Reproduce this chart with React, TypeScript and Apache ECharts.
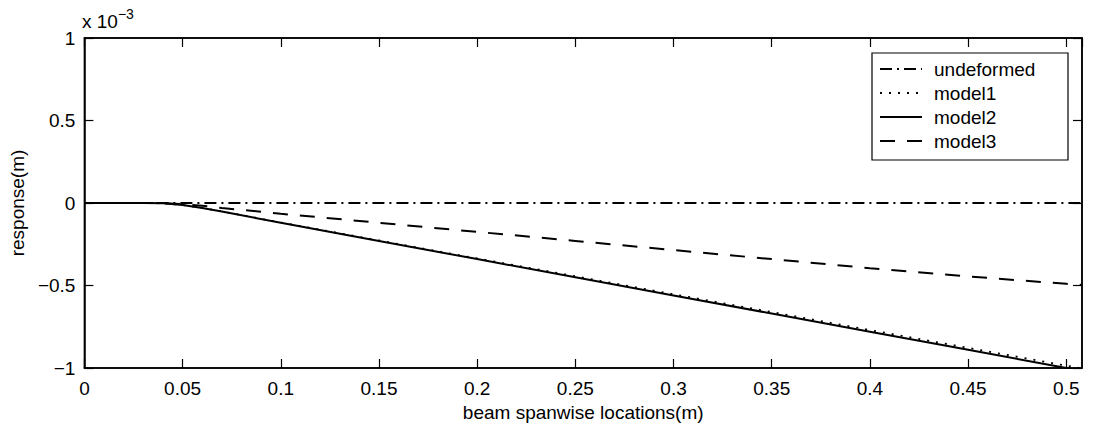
import React, { useEffect, useRef } from "react";
import * as echarts from "echarts";

// beam spanwise location (m)
const xs = [0, 0.02, 0.03, 0.04, 0.05, 0.06, 0.07, 0.1, 0.15, 0.2, 0.25, 0.3, 0.35, 0.4, 0.45, 0.5, 0.508];
// response in units of 1e-3 m
const undeformed = [0, 0, 0, 0, 0, 0, 0, 0, 0, 0, 0, 0, 0, 0, 0, 0, 0];
const model1 = [0, 0, 0, -0.002, -0.012, -0.03, -0.051, -0.118, -0.227, -0.336, -0.444, -0.553, -0.661, -0.77, -0.878, -0.986, -1.003];
const model2 = [0, 0, 0, -0.002, -0.012, -0.03, -0.052, -0.12, -0.23, -0.34, -0.45, -0.56, -0.67, -0.78, -0.89, -1.0, -1.018];
const model3 = [0, 0, 0, -0.001, -0.006, -0.017, -0.03, -0.065, -0.12, -0.175, -0.23, -0.285, -0.34, -0.395, -0.445, -0.49, -0.497];
const seriesNames = ["undeformed", "model1", "model2", "model3"];
const xTickLabels = ["0", "0.05", "0.1", "0.15", "0.2", "0.25", "0.3", "0.35", "0.4", "0.45", "0.5"];
const yTickLabels = ["-1", "-0.5", "0", "0.5", "1"];

const FONT = "'Liberation Sans', Arial, Helvetica, sans-serif";

function pairs(ys: number[]) {
  return xs.map((x, i) => [x, ys[i]]);
}

export default function App() {
  const ref = useRef<HTMLDivElement>(null);
  useEffect(() => {
    if (!ref.current) return;
    const chart = echarts.init(ref.current, null, { renderer: "svg" });
    const fmtX = (v: number) => {
      const i = Math.round(v / 0.05);
      return Math.abs(v - i * 0.05) < 1e-6 && i < xTickLabels.length ? xTickLabels[i] : "";
    };
    const fmtY = (v: number) => {
      const i = Math.round((v + 1) / 0.5);
      const s = yTickLabels[i] ?? "";
      return s.replace("-", "\u2212");
    };
    const tickStyle = { lineStyle: { color: "#000", width: 1.2 } };
    const axisLine = { show: true, onZero: false, lineStyle: { color: "#000", width: 1.5 } };
    const styles: any[] = [
      { type: [12, 5, 2, 5], width: 1.8 },
      { type: [2, 7], width: 1.8 },
      { type: "solid", width: 2 },
      { type: [15, 12], width: 2 },
    ];
    const datas = [undeformed, model1, model2, model3];
    chart.setOption({
      animation: false,
      backgroundColor: "#fff",
      textStyle: { fontFamily: FONT, color: "#000" },
      grid: {
        left: 81,
        right: 12,
        top: 38,
        bottom: 64,
        show: true,
        borderColor: "#000",
        borderWidth: 1.5,
        backgroundColor: "transparent",
      },
      xAxis: [
        {
          type: "value",
          min: 0,
          max: 0.508,
          interval: 0.05,
          position: "bottom",
          name: "beam spanwise locations(m)",
          nameLocation: "middle",
          nameGap: 33,
          nameTextStyle: { fontSize: 19, color: "#000", fontFamily: FONT },
          axisLine,
          axisTick: { show: true, inside: true, length: 9, ...tickStyle },
          axisLabel: {
            formatter: fmtX,
            fontSize: 19,
            color: "#000",
            fontFamily: FONT,
            margin: 11,
            showMaxLabel: false,
          },
          splitLine: { show: false },
        },
        {
          type: "value",
          min: 0,
          max: 0.508,
          interval: 0.05,
          position: "top",
          axisLine,
          axisTick: { show: true, inside: true, length: 9, ...tickStyle },
          axisLabel: { show: false },
          splitLine: { show: false },
        },
      ],
      yAxis: [
        {
          type: "value",
          min: -1,
          max: 1,
          interval: 0.5,
          position: "left",
          name: "response(m)",
          nameLocation: "middle",
          nameGap: 49,
          nameTextStyle: { fontSize: 19, color: "#000", fontFamily: FONT },
          axisLine,
          axisTick: { show: true, inside: true, length: 9, ...tickStyle },
          axisLabel: { formatter: fmtY, fontSize: 19, color: "#000", fontFamily: FONT, margin: 9 },
          splitLine: { show: false },
        },
        {
          type: "value",
          min: -1,
          max: 1,
          interval: 0.5,
          position: "right",
          axisLine,
          axisTick: { show: true, inside: true, length: 9, ...tickStyle },
          axisLabel: { show: false },
          splitLine: { show: false },
        },
      ],
      legend: {
        orient: "vertical",
        left: 879,
        top: 57,
        itemWidth: 42,
        itemHeight: 14,
        itemGap: 0,
        padding: 0,
        data: seriesNames,
        itemStyle: { color: "rgba(0,0,0,0)", borderWidth: 0, opacity: 0 },
        textStyle: { fontSize: 19, color: "#000", fontFamily: FONT, lineHeight: 24, padding: [0, 0, 0, 7] },
      },
      graphic: [
        {
          type: "rect",
          z: 3,
          shape: { x: 872, y: 53, width: 196, height: 107 },
          style: { fill: "#fff", stroke: "#000", lineWidth: 1.2 },
        },
        {
          type: "text",
          left: 82,
          top: 7,
          z: 5,
          style: {
            text: "{a|x 10}{b|\u22123}",
            rich: {
              a: { fontSize: 19, fontFamily: FONT, fill: "#000", verticalAlign: "bottom", lineHeight: 24 },
              b: { fontSize: 14, fontFamily: FONT, fill: "#000", verticalAlign: "top", lineHeight: 24, padding: [0, 0, 10, 0] },
            },
          },
        },
      ],
      series: seriesNames.map((name, i) => ({
        name,
        type: "line",
        xAxisIndex: 0,
        yAxisIndex: 0,
        data: pairs(datas[i]),
        showSymbol: false,
        symbol: "none",
        clip: true,
        lineStyle: { color: "#000", ...styles[i] },
        itemStyle: { color: "#000" },
        z: 2,
      })),
    });
    return () => chart.dispose();
  }, []);
  return <div ref={ref} style={{ width: 1094, height: 432, margin: -8 }} />;
}
